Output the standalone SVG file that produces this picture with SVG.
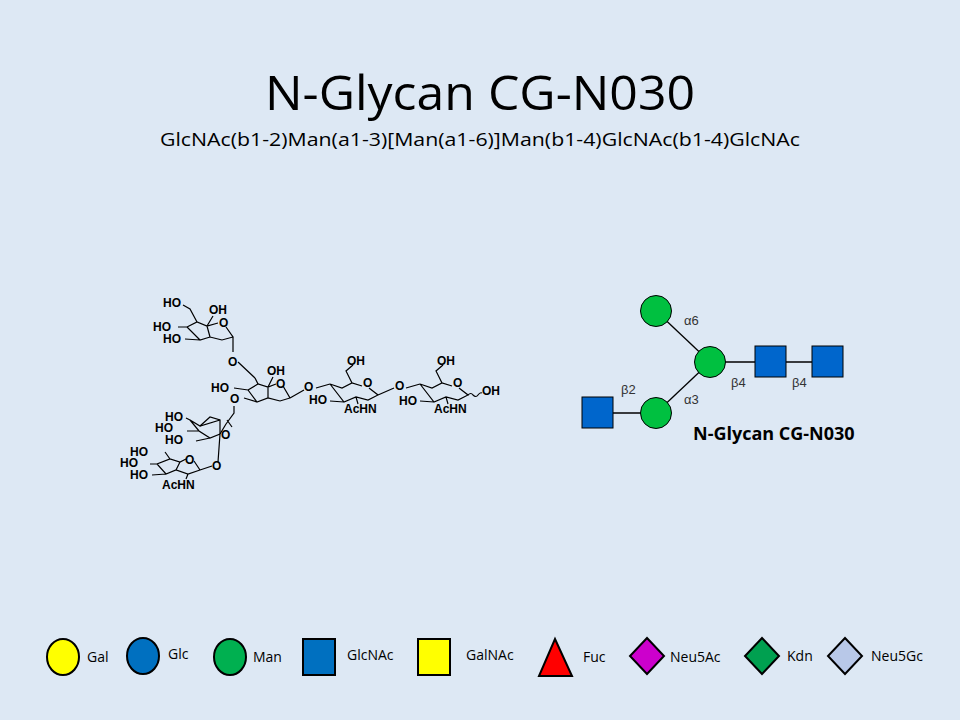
<svg xmlns="http://www.w3.org/2000/svg" width="960" height="720" viewBox="0 0 960 720">
<style>
.t{font-family:"Open Sans","Liberation Sans",sans-serif;fill:#000}
.c{font-family:"Liberation Sans",sans-serif;font-size:12px;font-weight:bold;fill:#000}
.b{stroke:#000;stroke-width:1.2;fill:none}
.lg{font-family:"Open Sans","Liberation Sans",sans-serif;font-size:14px;fill:#000}
.sym{stroke:#000;stroke-width:2}
</style>
<rect width="960" height="720" fill="#dde8f4"/>
<text class="t" x="265" y="110" font-size="48" textLength="430" lengthAdjust="spacingAndGlyphs">N-Glycan CG-N030</text>
<text class="t" x="160" y="146" font-size="19" fill="#222" textLength="640" lengthAdjust="spacingAndGlyphs">GlcNAc(b1-2)Man(a1-3)[Man(a1-6)]Man(b1-4)GlcNAc(b1-4)GlcNAc</text>

<g id="chem">
<path class="b" d="M187,327 L197,322 L207,326 L218,323 M226,327 L233,337 L222,340 L210,337 L200,340 L187,327 M207,326 L210,337 M197,322 L190,309 L183,305 M187,327 L178,327 M200,340 L185,339 M207,326 L213,316 M233,337 L233,352"/>
<text class="c" x="163" y="307">HO</text><text class="c" x="209" y="314">OH</text><text class="c" x="219" y="327">O</text>
<text class="c" x="153" y="331">HO</text><text class="c" x="163" y="343">HO</text>
<text class="c" x="228" y="366">O</text>
<path class="b" d="M238,362 L255,378 M248,390 L258,384 L268,387 L276,384 M283,386 L290,398 L280,401 L268,398 L257,402 L248,390 M268,387 L268,398 M248,390 L234,388 M257,402 L244,398 M268,387 L273,377 M290,398 L304,390"/>
<path class="b" d="M258,384 L255,378"/>
<text class="c" x="267" y="375">OH</text><text class="c" x="276" y="388">O</text>
<text class="c" x="211" y="392">HO</text><text class="c" x="230" y="403">O</text>
<text class="c" x="304" y="391">O</text>
<path class="b" d="M316,388 L330,384 M330,384 L342,388 L352,383 L362,386 M369,388 L378,395 L368,400 L356,397 L344,402 L330,384 M352,383 L346,371 L353,365 M344,402 L330,401 M356,397 L358,404 M378,395 L394,388"/>
<text class="c" x="347" y="365">OH</text><text class="c" x="363" y="387">O</text>
<text class="c" x="309" y="404">HO</text><text class="c" x="344" y="413">AcHN</text>
<text class="c" x="395" y="390">O</text>
<path class="b" d="M406,388 L420,384 M420,384 L432,388 L442,383 L452,386 M459,388 L468,395 L458,400 L446,397 L434,402 L420,384 M442,383 L436,371 L443,365 M434,402 L420,401 M446,397 L448,404"/>
<path class="b" d="M468,395 q3,-3 5,0 q3,3 5,0 q2,-3 4,-2"/>
<text class="c" x="437" y="365">OH</text><text class="c" x="453" y="387">O</text>
<text class="c" x="399" y="405">HO</text><text class="c" x="434" y="413">AcHN</text>
<text class="c" x="482" y="395">OH</text>
<path class="b" d="M234,406 L234,413 L226,424 M232,427 L227,420 M220,420 L200,426 L190,420 L199,431 L210,438 L220,434 L226,424 M199,431 L187,431 M190,420 L186,418 M210,438 L196,441 M220,434 L218,462"/>
<path class="b" d="M200,426 L210,417 L220,420 L220,434"/>
<text class="c" x="165" y="421">HO</text><text class="c" x="155" y="432">HO</text><text class="c" x="165" y="444">HO</text>
<text class="c" x="221" y="439">O</text>
<text class="c" x="212" y="470">O</text>
<path class="b" d="M212,466 L200,470 L188,474 L176,470 L166,474 L157,464 L170,459 L180,462 L186,459 M194,461 L200,470 M180,462 L176,470 M170,459 L165,452 M157,464 L150,464 M166,474 L152,475 M188,474 L186,479"/>
<text class="c" x="130" y="456">HO</text><text class="c" x="120" y="467">HO</text><text class="c" x="130" y="479">HO</text>
<text class="c" x="185" y="464">O</text><text class="c" x="162" y="489">AcHN</text>
</g>

<g id="connectors" stroke="#000" stroke-width="1.3">
<line x1="656" y1="311" x2="710" y2="362"/>
<line x1="656" y1="413" x2="710" y2="362"/>
<line x1="710" y1="362" x2="770" y2="362"/>
<line x1="770" y1="362" x2="827" y2="362"/>
<line x1="597" y1="413" x2="656" y2="413"/>
</g>
<g id="man1"><circle cx="656" cy="311" r="15.5" fill="#00c040" stroke="#000"/></g>
<g id="man2"><circle cx="710" cy="362" r="15.5" fill="#00c040" stroke="#000"/></g>
<g id="man3"><circle cx="656" cy="413" r="15.5" fill="#00c040" stroke="#000"/></g>
<g id="glcnac1"><rect x="755" y="346" width="31" height="31" fill="#0066cc" stroke="#000"/></g>
<g id="glcnac2"><rect x="812" y="346" width="31" height="31" fill="#0066cc" stroke="#000"/></g>
<g id="glcnac3"><rect x="582" y="397" width="31" height="31" fill="#0066cc" stroke="#000"/></g>
<g id="labels" font-family="Liberation Sans,sans-serif" font-size="13" fill="#333">
<text x="684" y="325">α6</text><text x="731" y="387">β4</text><text x="792" y="387">β4</text>
<text x="684" y="404">α3</text><text x="621" y="394">β2</text>
</g>
<text class="t" x="693" y="440" font-size="18" font-weight="bold">N-Glycan CG-N030</text>

<g id="legend">
<ellipse class="sym" cx="63" cy="657" rx="16" ry="18" fill="#ffff00"/><text class="lg" x="87" y="662">Gal</text>
<ellipse class="sym" cx="143" cy="656" rx="16" ry="18" fill="#0070c0"/><text class="lg" x="168" y="659">Glc</text>
<ellipse class="sym" cx="230" cy="657" rx="16" ry="18" fill="#00b050"/><text class="lg" x="253" y="662">Man</text>
<rect class="sym" x="303" y="639" width="32" height="36" fill="#0070c0"/><text class="lg" x="347" y="660">GlcNAc</text>
<rect class="sym" x="418" y="639" width="32" height="36" fill="#ffff00"/><text class="lg" x="466" y="660">GalNAc</text>
<polygon class="sym" points="555,639 572,676 539,676" fill="#ff0000"/><text class="lg" x="583" y="662">Fuc</text>
<polygon class="sym" points="647,638 664,656 647,674 630,656" fill="#cc00cc"/><text class="lg" x="670" y="662">Neu5Ac</text>
<polygon class="sym" points="762,638 779,656 762,674 745,656" fill="#00a050"/><text class="lg" x="787" y="661">Kdn</text>
<polygon class="sym" points="845,638 862,656 845,674 828,656" fill="#b8c8e8"/><text class="lg" x="871" y="661">Neu5Gc</text>
</g>
</svg>
